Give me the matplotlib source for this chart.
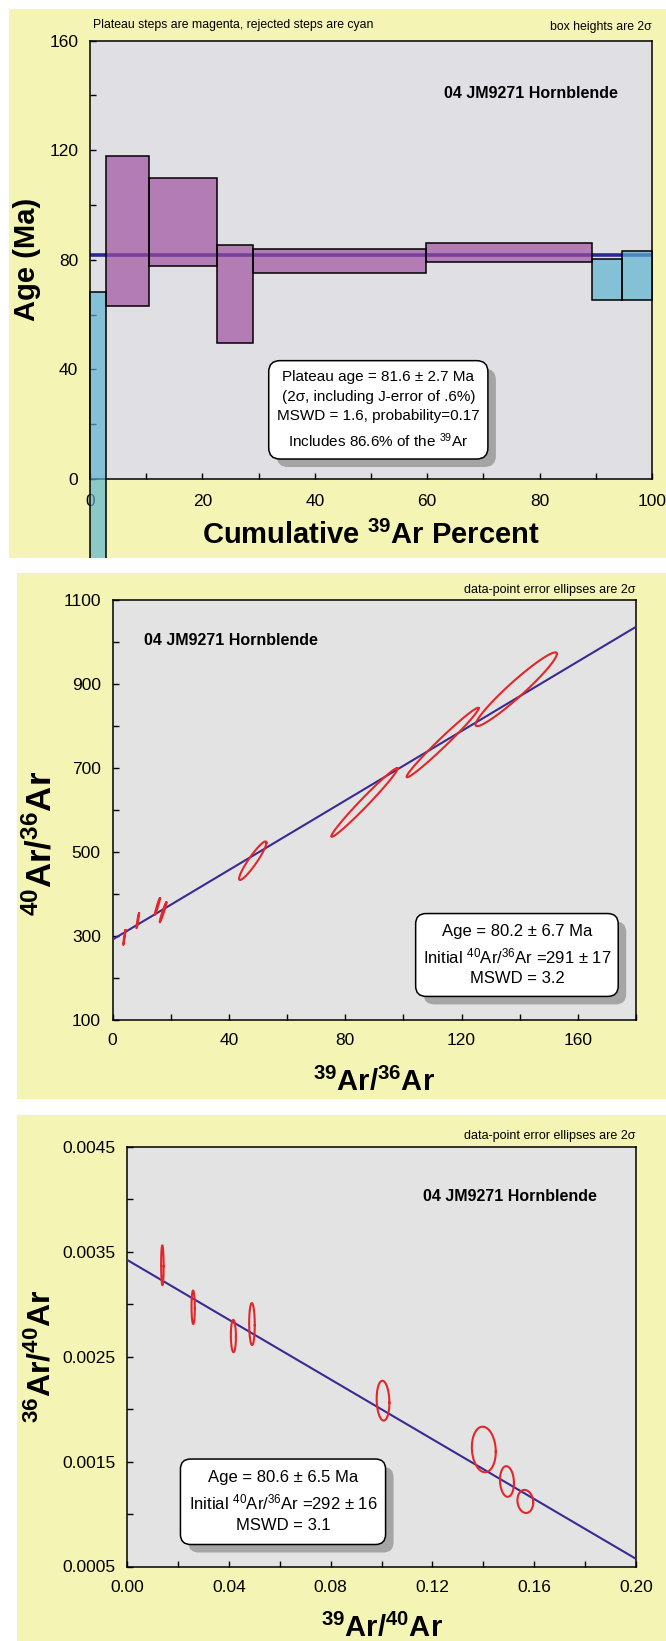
import numpy as np
import matplotlib
matplotlib.use('Agg')
import matplotlib.pyplot as plt
from matplotlib.patches import Rectangle, FancyBboxPatch
from matplotlib.ticker import FixedLocator, FormatStrFormatter
from matplotlib.transforms import offset_copy

plt.rcParams['font.family'] = ['Liberation Sans', 'DejaVu Sans']
plt.rcParams['mathtext.fontset'] = 'custom'
plt.rcParams['mathtext.rm'] = 'Liberation Sans'
plt.rcParams['mathtext.it'] = 'Liberation Sans:italic'
plt.rcParams['mathtext.bf'] = 'Liberation Sans:bold'

# ---- data: age spectrum ----
step_edges = [0, 2.9, 10.55, 22.66, 29.06, 59.8, 89.3, 94.7, 100]
step_lo = [-60, 63.2, 77.6, 49.6, 75.2, 79.3, 65.3, 65.5]
step_hi = [68.4, 117.9, 109.9, 85.3, 84.1, 86.2, 80.2, 83.3]
step_plateau = [False, True, True, True, True, True, False, False]
plateau_age = 81.6
spec_xticks = [0, 20, 40, 60, 80, 100]
spec_yticks = [0, 40, 80, 120, 160]

# ---- data: normal isochron (39/36 vs 40/36) ----
iso_x = [4.05, 8.65, 15.4, 17.35, 48.2, 86.6, 113.5, 138.8]
iso_ex = [0.4, 0.45, 0.9, 1.15, 4.7, 11.4, 12.4, 14.0]
iso_y = [296, 336, 370, 356, 479, 618, 761, 888]
iso_ey = [18, 18, 20, 24, 46, 82, 83, 88]
iso_rho = [0.95, 0.95, 0.97, 0.97, 0.93, 0.985, 0.985, 0.96]
iso_line_x = [0, 180]
iso_line_y = [291, 1037]
iso_xticks = [0, 40, 80, 120, 160]
iso_yticks = [100, 300, 500, 700, 900, 1100]

# ---- data: inverse isochron (39/40 vs 36/40) ----
inv_x = [0.0139, 0.026, 0.0418, 0.0491, 0.1006, 0.1402, 0.1493, 0.1565]
inv_ex = [0.0005, 0.00065, 0.001, 0.0011, 0.0025, 0.0047, 0.00275, 0.0031]
inv_y = [0.00337, 0.00297, 0.002696, 0.00281, 0.00208, 0.001615, 0.00131, 0.00112]
inv_ey = [0.00019, 0.00016, 0.000154, 0.0002, 0.00019, 0.000217, 0.000146, 0.00011]
inv_rho = [-0.05, -0.05, -0.05, -0.05, -0.1, -0.1, -0.1, -0.1]
inv_line_x = [0, 0.2]
inv_line_y = [0.003422, 0.000573]
inv_xticks = [0.00, 0.04, 0.08, 0.12, 0.16, 0.20]
inv_yticks = [0.0005, 0.0015, 0.0025, 0.0035, 0.0045]

W, H = 666, 1641
fig = plt.figure(figsize=(W / 100, H / 100), dpi=100)
fig.patch.set_facecolor('white')

YELLOW = '#f4f4b4'
MAGENTA = '#a04d9e'
CYAN = '#5ab4d0'
RED = '#e3262a'
TICK_FS = 12.5


def frac(l, t, r, b):
    return [l / W, 1 - b / H, (r - l) / W, (b - t) / H]


def panel(l, t, r, b):
    rect = Rectangle((l / W, 1 - b / H), (r - l) / W, (b - t) / H,
                     transform=fig.transFigure, facecolor=YELLOW,
                     edgecolor='none', zorder=0)
    fig.add_artist(rect)
    return rect


def style_axes(ax, face):
    ax.set_facecolor(face)
    for s in ax.spines.values():
        s.set_linewidth(1.1)
        s.set_color('black')
    ax.tick_params(which='both', direction='in', length=4, width=1,
                   labelsize=TICK_FS, top=False, right=False)


def info_box(ax, x0, y0, x1, y1, text, size, spacing):
    bb = ax.get_position()
    aspect = (bb.width * W) / (bb.height * H)
    shadow = FancyBboxPatch((x0, y0), x1 - x0, y1 - y0,
                            boxstyle='round,pad=0,rounding_size=0.02',
                            mutation_aspect=aspect,
                            transform=offset_copy(ax.transAxes, fig=fig, x=8, y=-8, units='dots'),
                            facecolor='#9a9a9a', edgecolor='none', alpha=0.85, zorder=5)
    box = FancyBboxPatch((x0, y0), x1 - x0, y1 - y0,
                         boxstyle='round,pad=0,rounding_size=0.02',
                         mutation_aspect=aspect, transform=ax.transAxes,
                         facecolor='white', edgecolor='black', linewidth=1.1, zorder=6)
    ax.add_patch(shadow)
    ax.add_patch(box)
    ax.text((x0 + x1) / 2, (y0 + y1) / 2, text, transform=ax.transAxes,
            ha='center', va='center', fontsize=size, linespacing=spacing,
            multialignment='center', zorder=7)


def ellipse(ax, cx, cy, ex, ey, rho):
    t = np.linspace(0, 2 * np.pi, 200)
    xs = cx + ex * np.cos(t)
    ys = cy + ey * (rho * np.cos(t) + np.sqrt(1 - rho ** 2) * np.sin(t))
    ax.plot(xs, ys, color=RED, lw=1.5, zorder=4)


# ================= panel 1: age spectrum =================
bg1 = panel(9, 9.3, 666, 558)
ax1 = fig.add_axes(frac(90, 40.7, 652, 479))
style_axes(ax1, '#dfdfe4')
ax1.set_xlim(0, 100)
ax1.set_ylim(0, 160)

ax1.axhline(plateau_age, color='#28289a', lw=2.6, zorder=2)
lefts = np.array(step_edges[:-1])
widths = np.diff(step_edges)
lo = np.array(step_lo)
hi = np.array(step_hi)
colors = [MAGENTA if p else CYAN for p in step_plateau]
bars = ax1.bar(lefts, hi - lo, width=widths, bottom=lo, align='edge',
               color=colors, alpha=0.68, edgecolor='none', zorder=3)
edges = ax1.bar(lefts, hi - lo, width=widths, bottom=lo, align='edge',
                fill=False, edgecolor='black', linewidth=1.1, zorder=3.5)
for b in list(bars) + list(edges):
    b.set_clip_path(bg1)

ax1.xaxis.set_major_locator(FixedLocator(spec_xticks))
ax1.xaxis.set_minor_locator(FixedLocator([10, 30, 50, 70, 90]))
ax1.yaxis.set_major_locator(FixedLocator(spec_yticks))
ax1.yaxis.set_minor_locator(FixedLocator([20, 60, 100, 140]))
ax1.tick_params(axis='x', pad=10.5)
ax1.tick_params(axis='y', pad=8.5)

ax1.text(0.005, 1.036, 'Plateau steps are magenta, rejected steps are cyan',
         transform=ax1.transAxes, fontsize=8.8, ha='left', va='center')
ax1.text(1.0, 1.032, 'box heights are 2\u03c3', transform=ax1.transAxes,
         fontsize=8.8, ha='right', va='center')
ax1.text(93.9, 140.7, '04 JM9271 Hornblende', fontsize=11.5, fontweight='bold',
         ha='right', va='center')
ax1.text(-0.112, 0.5, 'Age (Ma)', transform=ax1.transAxes, rotation=90,
         fontsize=21, fontweight='bold', ha='center', va='center')
ax1.text(0.5, -0.129, r'Cumulative $^{\mathbf{39}}$Ar Percent', transform=ax1.transAxes,
         fontsize=21, fontweight='bold', ha='center', va='center')
info_box(ax1, 0.318, 0.0456, 0.708, 0.27,
         'Plateau age = 81.6 \u00b1 2.7 Ma\n(2\u03c3, including J-error of .6%)\n'
         'MSWD = 1.6, probability=0.17\n' + r'Includes 86.6% of the $^{39}$Ar',
         11, 1.5)

# ================= panel 2: normal isochron =================
panel(17, 572.5, 666, 1099.3)
ax2 = fig.add_axes(frac(112.6, 600.4, 636, 1019.6))
style_axes(ax2, '#e3e3e3')
ax2.set_xlim(0, 180)
ax2.set_ylim(100, 1100)
ax2.plot(iso_line_x, iso_line_y, color='#3a2a92', lw=1.5, zorder=3)
for cx, ex, cy, ey, r in zip(iso_x, iso_ex, iso_y, iso_ey, iso_rho):
    ellipse(ax2, cx, cy, ex, ey, r)
ax2.xaxis.set_major_locator(FixedLocator(iso_xticks))
ax2.xaxis.set_minor_locator(FixedLocator([20, 60, 100, 140, 180]))
ax2.yaxis.set_major_locator(FixedLocator(iso_yticks))
ax2.yaxis.set_minor_locator(FixedLocator([200, 400, 600, 800, 1000]))
ax2.tick_params(axis='x', pad=10)
ax2.tick_params(axis='y', pad=8.5)
ax2.text(1.0, 1.026, 'data-point error ellipses are 2\u03c3', transform=ax2.transAxes,
         fontsize=9, ha='right', va='center')
ax2.text(10.9, 1004.6, '04 JM9271 Hornblende', fontsize=11.5, fontweight='bold',
         ha='left', va='center')
ax2.text(-0.137, 0.42, r'$^{\mathbf{40}}$Ar/$^{\mathbf{36}}$Ar', transform=ax2.transAxes,
         rotation=90, fontsize=25, fontweight='bold', ha='center', va='center')
ax2.text(0.5, -0.151, r'$^{\mathbf{39}}$Ar/$^{\mathbf{36}}$Ar', transform=ax2.transAxes,
         fontsize=21, fontweight='bold', ha='center', va='center')
info_box(ax2, 0.579, 0.0553, 0.966, 0.253,
         'Age = 80.2 \u00b1 6.7 Ma\n' + r'Initial $^{40}$Ar/$^{36}$Ar =291 $\pm$ 17' + '\nMSWD = 3.2',
         12, 1.45)

# ================= panel 3: inverse isochron =================
panel(17, 1115, 666, 1641)
ax3 = fig.add_axes(frac(127, 1146.7, 636, 1566.5))
style_axes(ax3, '#e3e3e3')
ax3.set_xlim(0, 0.2)
ax3.set_ylim(0.0005, 0.0045)
ax3.plot(inv_line_x, inv_line_y, color='#3a2a92', lw=1.5, zorder=3)
for cx, ex, cy, ey, r in zip(inv_x, inv_ex, inv_y, inv_ey, inv_rho):
    ellipse(ax3, cx, cy, ex, ey, r)
ax3.xaxis.set_major_locator(FixedLocator(inv_xticks))
ax3.xaxis.set_minor_locator(FixedLocator([0.02, 0.06, 0.10, 0.14, 0.18]))
ax3.yaxis.set_major_locator(FixedLocator(inv_yticks))
ax3.yaxis.set_minor_locator(FixedLocator([0.001, 0.002, 0.003, 0.004]))
ax3.xaxis.set_major_formatter(FormatStrFormatter('%.2f'))
ax3.yaxis.set_major_formatter(FormatStrFormatter('%.4f'))
ax3.tick_params(axis='x', pad=10)
ax3.tick_params(axis='y', pad=8)
ax3.text(1.0, 1.0255, 'data-point error ellipses are 2\u03c3', transform=ax3.transAxes,
         fontsize=9, ha='right', va='center')
ax3.text(0.1846, 0.004024, '04 JM9271 Hornblende', fontsize=11.5, fontweight='bold',
         ha='right', va='center')
ax3.text(-0.167, 0.5, r'$^{\mathbf{36}}$Ar/$^{\mathbf{40}}$Ar', transform=ax3.transAxes,
         rotation=90, fontsize=23, fontweight='bold', ha='center', va='center')
ax3.text(0.5, -0.1465, r'$^{\mathbf{39}}$Ar/$^{\mathbf{40}}$Ar', transform=ax3.transAxes,
         fontsize=21, fontweight='bold', ha='center', va='center')
info_box(ax3, 0.105, 0.0524, 0.508, 0.256,
         'Age = 80.6 \u00b1 6.5 Ma\n' + r'Initial $^{40}$Ar/$^{36}$Ar =292 $\pm$ 16' + '\nMSWD = 3.1',
         12, 1.45)

fig.savefig('out.png', dpi=100)
